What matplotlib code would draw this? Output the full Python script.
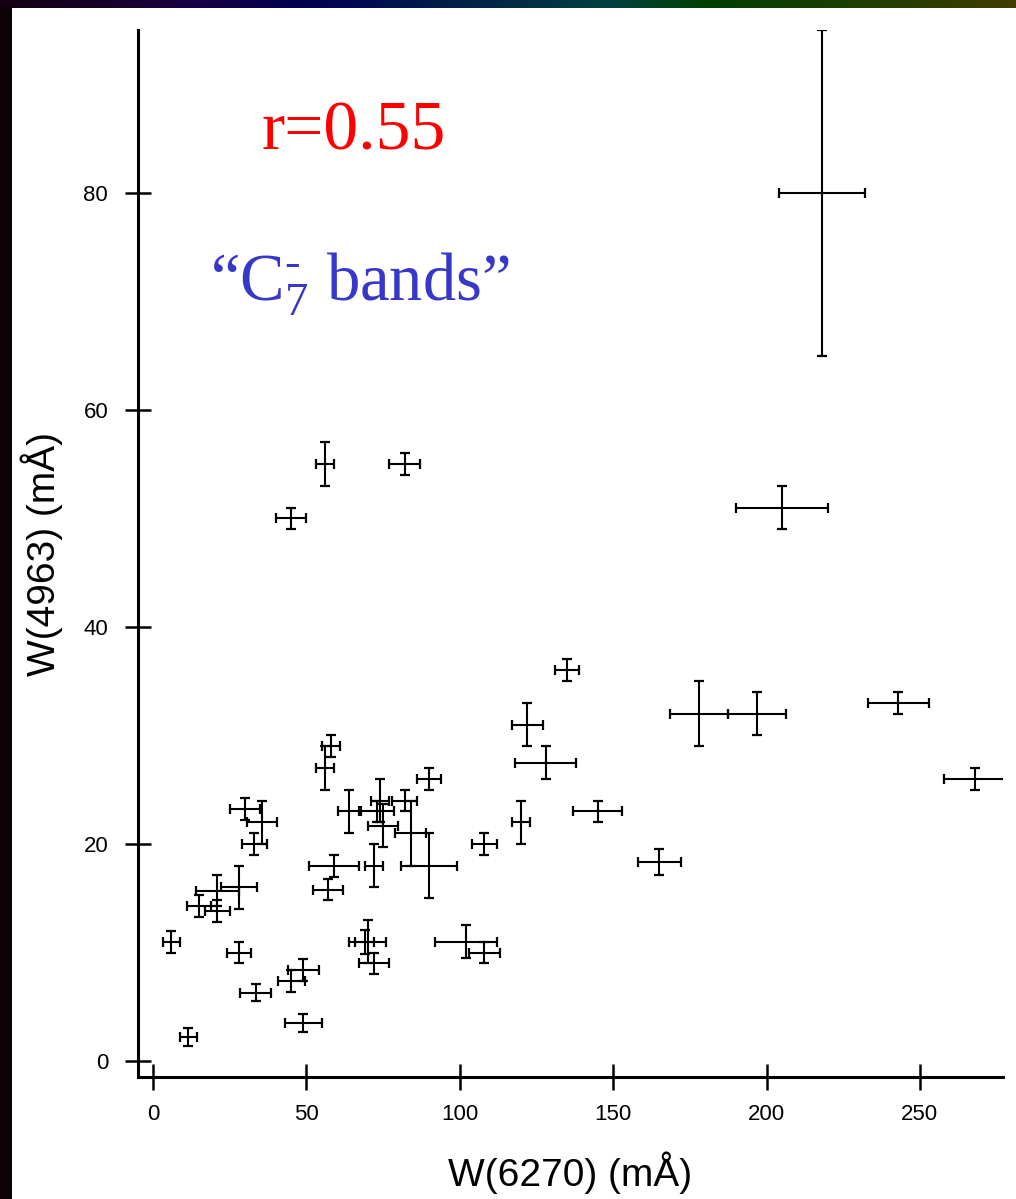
import matplotlib
matplotlib.use("Agg")
import matplotlib.pyplot as plt
import numpy as np
from matplotlib.colors import LinearSegmentedColormap

# ---- data ----
w6270 = [58, 56, 90, 30, 35.5, 33, 64, 74, 73, 75, 82, 84, 90, 59, 57, 72,
         108, 120, 122, 70, 69, 72, 102, 108, 49, 45, 49, 6, 11.5, 28, 33.5,
         15, 21, 28, 21, 45, 56, 82, 218, 205, 128, 178, 197, 145, 165, 268,
         243, 135]
w4963 = [29, 27, 26, 23.2, 22, 20, 23, 24, 23, 21.7, 24, 21, 18, 18, 15.8, 18,
         20, 22, 31, 11, 11, 9, 11, 10, 8.4, 7.4, 3.5, 11, 2.2, 10, 6.3,
         14.3, 13.8, 16, 15.7, 50, 55, 55, 80, 51, 27.5, 32, 32, 23, 18.3, 26,
         33, 36]
err6270 = [3, 3, 4, 5, 5, 4, 3.7, 3, 5.7, 5, 4, 5, 9, 8, 5, 3,
           4, 3, 5, 6, 3, 5, 10, 5, 5, 4.4, 6, 2.7, 2.7, 4, 5,
           4, 4, 6, 7, 5, 3, 5, 14, 15, 10, 9.5, 9.5, 8, 7, 10,
           10, 4]
err4963 = [1, 2, 1, 1, 2, 1, 2, 2, 1, 2, 1, 3, 3, 1, 1, 2,
           1, 2, 2, 2, 1.1, 1, 1.5, 1, 1, 1, 0.8, 1, 0.8, 1, 0.8,
           1, 1, 2, 1.4, 1, 2, 1, 15, 2, 1.5, 3, 2, 1, 1.2, 1,
           1, 1]

x_ticks = [0, 50, 100, 150, 200, 250]
y_ticks = [0, 20, 40, 60, 80]
x_label = "W(6270) (mÅ)"
y_label = "W(4963) (mÅ)"
corr_text = "r=0.55"
band_text = "“C$\\mathregular{_7^{\u2010}}$ bands”"

# ---- figure ----
plt.rcParams['mathtext.fontset'] = 'custom'
plt.rcParams['mathtext.rm'] = 'Liberation Serif'
plt.rcParams['mathtext.it'] = 'Liberation Serif:italic'
plt.rcParams['mathtext.bf'] = 'Liberation Serif:bold'

W, H = 1016, 1199
fig = plt.figure(figsize=(W / 100, H / 100), dpi=100)
fig.patch.set_facecolor('white')

# slide decorations: dark left strip and gradient top strip
left_ax = fig.add_axes([0, 0, 12 / W, 1])
left_ax.set_axis_off()
left_ax.add_patch(plt.Rectangle((0, 0), 1, 1, color='#0b0306', transform=left_ax.transAxes))

top_ax = fig.add_axes([0, 1 - 8 / H, 1, 8 / H])
grad = LinearSegmentedColormap.from_list(
    'slide', [(0.0, '#140010'), (0.18, '#180040'), (0.3, '#000050'),
              (0.45, '#002048'), (0.6, '#004040'), (0.7, '#004000'),
              (1.0, '#403c00')])
top_ax.imshow(np.linspace(0, 1, 512)[None, :], aspect='auto', cmap=grad,
              extent=[0, 1, 0, 1])
top_ax.set_axis_off()

ax = fig.add_axes([138 / W, 1 - 1077 / H, (1003 - 138) / W, (1077 - 30) / H])
ax.errorbar(w6270, w4963, xerr=err6270, yerr=err4963, fmt='none',
            ecolor='black', elinewidth=1.5, capsize=3.3, capthick=1.6)

ax.set_xlim(-4.9, 277.1)
ax.set_ylim(-1.47, 95.0)
ax.set_xticks(x_ticks)
ax.set_yticks(y_ticks)
for s in ['top', 'right']:
    ax.spines[s].set_visible(False)
for s in ['left', 'bottom']:
    ax.spines[s].set_linewidth(2.2)
ax.tick_params(direction='inout', length=19, width=1.8, labelsize=16)
ax.tick_params(axis='y', pad=12)
ax.tick_params(axis='x', pad=10)
for lab in ax.get_xticklabels() + ax.get_yticklabels():
    lab.set_fontfamily('Liberation Sans')

ax.set_xlabel(x_label, fontsize=28, fontfamily='Liberation Sans', labelpad=19)
ax.set_ylabel(y_label, fontsize=28, fontfamily='Liberation Sans', labelpad=15)

fig.text(262 / W, 1 - 150 / H, corr_text, color='#ff0000', fontsize=50,
         fontfamily='Liberation Serif', ha='left', va='baseline')
fig.text(210 / W, 1 - 300 / H, band_text, color='#3838c8', fontsize=48,
         fontfamily='Liberation Serif', ha='left', va='baseline')

fig.savefig('out.png', dpi=100)
